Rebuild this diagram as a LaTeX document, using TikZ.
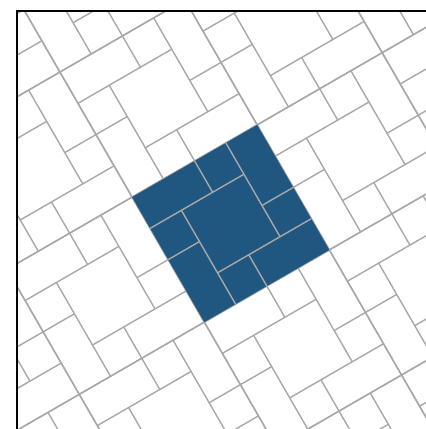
\documentclass[tikz,border=0pt]{standalone}
\definecolor{tileblue}{RGB}{32,87,128}
\definecolor{tilegrey}{RGB}{168,168,168}
\tikzset{
  joint/.style={draw=tilegrey, line width=1.4pt},
  frameline/.style={draw=black, line width=1.3pt},
  block/.pic={
    \draw[joint] (0,0) -- (4,0) -- (4,4) -- (0,4) -- cycle;
    \draw[joint] (2,0) -- (2,1);
    \draw[joint] (3,0) -- (3,3);
    \draw[joint] (0,1) -- (3,1);
    \draw[joint] (3,2) -- (4,2);
    \draw[joint] (1,3) -- (4,3);
    \draw[joint] (2,3) -- (2,4);
    \draw[joint] (1,1) -- (1,4);
    \draw[joint] (0,2) -- (1,2);
  },
  inner/.pic={
    \draw[joint] (2,0) -- (2,1);
    \draw[joint] (3,0) -- (3,3);
    \draw[joint] (0,1) -- (3,1);
    \draw[joint] (3,2) -- (4,2);
    \draw[joint] (1,3) -- (4,3);
    \draw[joint] (2,3) -- (2,4);
    \draw[joint] (1,1) -- (1,4);
    \draw[joint] (0,2) -- (1,2);
  }
}
\begin{document}
\begin{tikzpicture}[x=1pt,y=-1pt]
\useasboundingbox (0,0) rectangle (426,429);
\fill[white] (0,0) rectangle (426,429);
\begin{scope}
  \clip (17,11) rectangle (430,433);
  \begin{scope}[shift={(132.1pt,-197.1pt)}, x={(31.26pt,18.05pt)}, y={(18.05pt,-31.26pt)}]
    \foreach \i in {-3,...,3}{
      \foreach \j in {-3,...,3}{
        \pic at (4*\i,4*\j) {block};
      }
    }
    \fill[tileblue] (0,0) coordinate (bTL) -- (4,0) coordinate (bTR) -- (4,4) coordinate (bBR) -- (0,4) coordinate (bBL) -- cycle;
    \pic at (0,0) {inner};
  \end{scope}
\end{scope}
\coordinate (fBL) at (17,433);
\coordinate (fTL) at (17,11);
\coordinate (fTR) at (430,11);
\draw[frameline] (fBL) -- (fTL) -- (fTR);
\end{tikzpicture}
\end{document}
